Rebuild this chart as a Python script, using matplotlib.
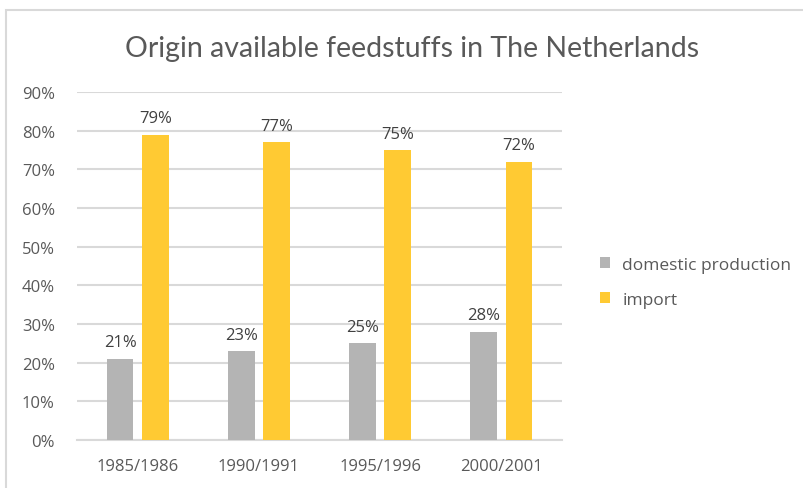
import matplotlib.pyplot as plt
import numpy as np
from matplotlib.patches import Rectangle
from matplotlib.ticker import PercentFormatter

plt.rcParams['font.family'] = ['Open Sans', 'DejaVu Sans']

# data
years = ['1985/1986', '1990/1991', '1995/1996', '2000/2001']
domestic = [0.21, 0.23, 0.25, 0.28]
imports = [0.79, 0.77, 0.75, 0.72]

GRAY = '#B4B4B4'
YELLOW = '#FFCA33'
TXT = '#595959'

fig = plt.figure(figsize=(8.04, 4.89), dpi=100)
# light frame like the excel chart area
fig.add_artist(Rectangle((6 / 804, -0.1), 1.1, 1.1 - 11 / 489, transform=fig.transFigure,
                         fill=False, edgecolor='#D9D9D9', linewidth=1.5))

ax = fig.add_axes([77 / 804, 1 - 441 / 489, (562 - 77) / 804, (441 - 93) / 489])

x = np.arange(len(years))
w = 0.22
gap = 0.035
b1 = ax.bar(x - w / 2 - gap, domestic, w, color=GRAY, label='domestic production', zorder=3)
b2 = ax.bar(x + w / 2 + gap, imports, w, color=YELLOW, label='import', zorder=3)

for bars, vals in ((b1, domestic), (b2, imports)):
    for r, v in zip(bars, vals):
        ax.annotate(f'{v * 100:.0f}%', (r.get_x() + r.get_width() / 2, v),
                    xytext=(0, 6), textcoords='offset points', ha='center', va='bottom',
                    fontsize=12, color='#404040')

ax.set_xlim(-0.5, len(years) - 0.5)
ax.set_ylim(0, 0.9)
ax.set_yticks(np.arange(0, 0.91, 0.1))
ax.yaxis.set_major_formatter(PercentFormatter(1.0, decimals=0))
ax.set_xticks(x)
ax.set_xticklabels(years)
ax.tick_params(length=0, labelsize=12, colors=TXT)
ax.tick_params(axis='y', pad=16)
ax.tick_params(axis='x', pad=13)
ax.grid(axis='y', color='#D9D9D9', linewidth=1.5, zorder=0)
for s in ['top', 'right', 'left']:
    ax.spines[s].set_visible(False)
ax.spines['bottom'].set_color('#D9D9D9')
ax.spines['bottom'].set_linewidth(1.5)

fig.text(412 / 804, 1 - 49 / 489, 'Origin available feedstuffs in The Netherlands',
         family=['Lato', 'DejaVu Sans'], ha='center', va='center', fontsize=20.5, color=TXT)

fig.legend(handles=[b1, b2], loc='upper left', bbox_to_anchor=(584 / 804, 1 - 242 / 489),
           frameon=False, fontsize=12.5, labelcolor=TXT, handlelength=0.6, handleheight=0.6,
           handletextpad=0.7, labelspacing=1.1)

fig.savefig('out.png', dpi=100)
